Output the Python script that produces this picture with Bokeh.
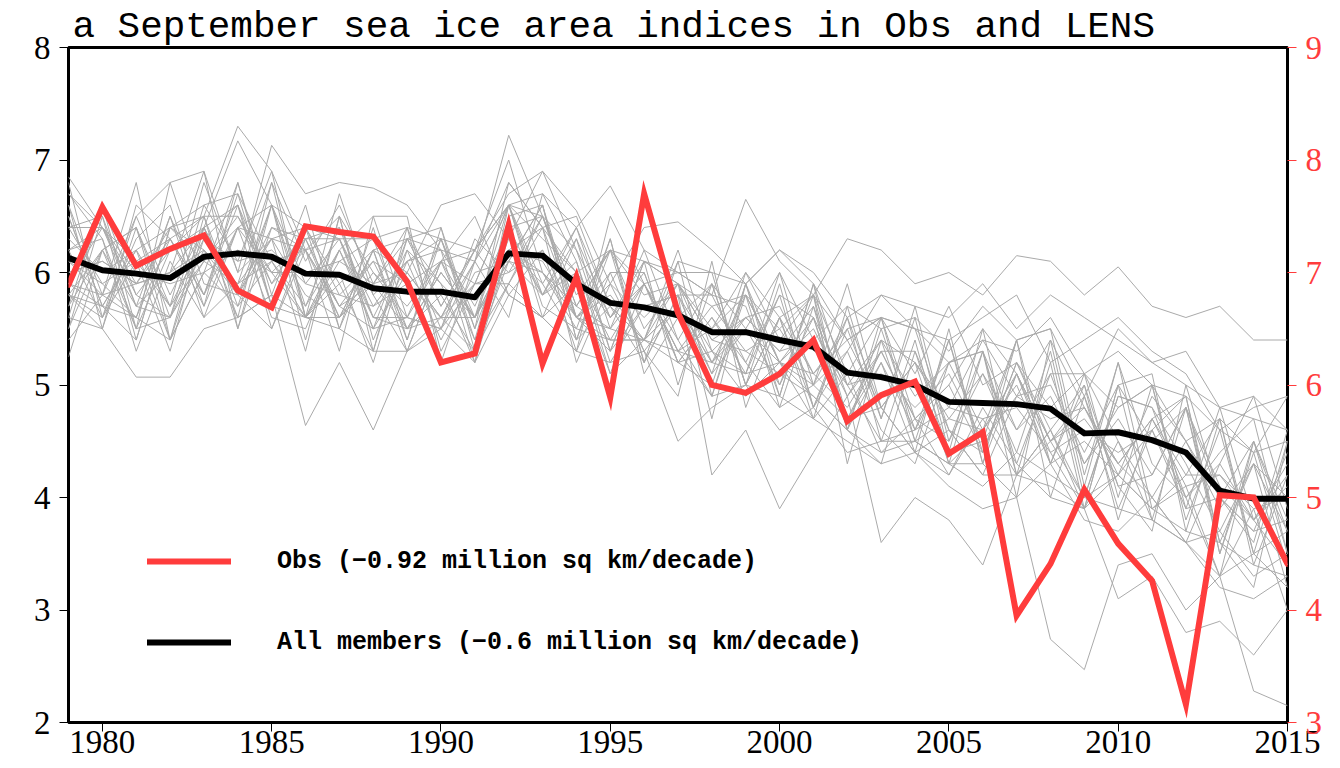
from bokeh.plotting import figure
from bokeh.models import Range1d, LinearAxis, Legend, LegendItem, FixedTicker
from bokeh.embed import file_html
from bokeh.resources import INLINE

years = list(range(1979, 2016))

# Observations (right axis, million sq km)
obs = [6.89, 7.58, 7.06, 7.21, 7.33, 6.84, 6.69, 7.41, 7.36, 7.32,
       6.92, 6.20, 6.28, 7.42, 6.19, 6.96, 5.89, 7.70, 6.64, 6.00,
       5.93, 6.10, 6.40, 5.68, 5.91, 6.03, 5.39, 5.58, 3.95, 4.41,
       5.07, 4.59, 4.26, 3.16, 5.02, 5.00, 4.41]

# LENS ensemble mean (left axis)
ens_mean = [6.13, 6.02, 5.99, 5.95, 6.14, 6.17, 6.14, 5.99, 5.98, 5.86,
            5.83, 5.83, 5.78, 6.17, 6.15, 5.90, 5.73, 5.69, 5.62, 5.47,
            5.47, 5.40, 5.34, 5.11, 5.07, 5.00, 4.85, 4.84, 4.83, 4.79,
            4.57, 4.58, 4.51, 4.40, 4.06, 3.99, 3.99]

# Individual ensemble members (left axis), estimated by eye
m01 = [6.85,6.40,6.10,6.30,6.50, 7.30,6.90,6.20,6.50,6.00, 5.70,6.10,5.90,6.60,6.30, 6.00,5.60,5.90,5.30,5.50, 5.80,5.20,5.60,5.00,5.40, 4.90,5.20,4.60,5.10,4.50, 4.80,4.20,4.90,4.50,3.90, 4.30,3.70]
m02 = [5.80,6.20,5.70,6.00,6.40, 7.17,6.60,6.40,5.90,6.20, 6.00,5.60,6.10,7.22,6.50, 5.80,6.20,5.50,5.90,5.20, 5.60,5.70,5.10,5.40,4.80, 5.20,4.70,5.10,4.60,4.90, 4.30,4.70,4.20,4.80,4.10, 3.80,4.20]
m03 = [6.60,5.50,6.40,5.40,6.50, 5.70,6.60,5.40,6.50,5.30, 6.40,5.30,5.90,6.60,5.60, 6.30,5.30,6.10,5.00,5.90, 5.00,5.90,4.80,5.60,4.50, 5.40,4.30,5.30,4.20,5.20, 3.90,5.00,3.80,4.80,3.50, 4.40,3.40]
m04 = [5.50,6.50,5.70,6.50,5.80, 6.70,5.70,6.40,5.50,6.40, 5.40,6.30,5.40,6.50,6.60, 5.40,6.20,5.20,6.10,4.90, 5.80,4.80,5.70,4.60,5.60, 4.50,5.40,4.30,5.40,4.30, 5.10,4.00,5.00,3.80,4.60, 3.50,4.50]
m05 = [5.25,6.20,6.40,5.60,6.60, 6.10,6.90,5.60,6.00,5.20, 6.20,5.90,5.20,6.60,5.80, 6.40,5.50,6.20,5.40,4.90, 5.90,5.00,5.80,4.70,5.30, 4.70,5.00,5.50,4.20,4.60, 5.00,3.80,4.70,4.90,3.60, 4.30,3.20]
m06 = [6.50,5.70,5.40,6.40,6.20, 5.60,5.80,6.60,5.50,5.30, 6.30,6.40,5.30,6.10,6.60, 5.40,6.30,5.10,5.60,5.90, 5.00,5.60,4.70,5.70,4.70, 5.60,4.40,4.50,5.40,5.50, 4.20,5.20,3.90,4.20,4.70, 3.50,3.70]
m07 = [6.10,5.80,6.80,5.40,6.00, 6.80,5.70,5.60,6.70,5.80, 5.30,6.10,6.20,5.80,6.20, 5.30,6.00,6.00,5.20,5.60, 5.10,5.80,5.60,4.60,5.50, 4.60,5.20,5.30,4.00,5.40, 4.80,4.30,4.00,3.60,4.30, 4.90,3.90]
m08 = [5.70,6.60,5.50,6.80,6.90, 5.50,6.40,6.20,5.30,6.50, 6.50,5.20,6.10,5.60,6.70, 6.10,5.10,5.90,6.00,5.80, 5.20,4.80,5.00,5.90,4.80, 4.40,5.50,4.30,5.10,4.40, 3.90,5.00,5.10,3.70,4.70, 3.40,4.20]
m09 = [6.80,5.60,6.10,5.30,6.40, 6.60,5.50,6.20,6.30,5.50, 5.60,6.30,5.50,6.80,6.40, 6.50,5.70,5.20,5.80,5.10, 6.00,5.60,4.80,5.30,5.80, 5.50,4.60,4.20,4.90,5.40, 4.10,5.20,4.30,4.00,3.30, 4.50,3.50]
m10 = [6.20,6.30,5.30,6.10,5.60, 5.90,6.80,5.60,5.50,6.20, 5.30,6.10,6.50,5.80,5.60, 5.30,6.50,5.90,5.20,5.00, 5.90,4.90,5.90,4.60,4.30, 5.30,4.40,5.50,5.10,4.30, 5.00,4.10,3.70,5.00,4.00, 3.60,4.60]
m11 = [5.50,6.20,6.40,5.70,6.80, 6.00,6.30,5.30,6.50,5.40, 6.10,5.40,6.00,6.10,6.60, 5.60,5.80,5.40,6.20,5.30, 5.10,6.00,5.00,5.30,4.60, 4.30,5.20,5.30,4.30,5.10, 4.30,4.80,5.00,3.90,4.80, 3.80,3.40]
m12 = [6.70,6.40,5.70,5.60,6.20, 5.80,6.40,6.30,5.70,5.50, 6.30,6.20,5.20,6.20,6.40, 5.20,5.90,5.30,4.90,6.10, 4.80,5.60,5.80,4.30,5.40, 5.20,4.30,4.60,5.40,4.00, 4.90,4.10,4.20,4.80,3.60, 3.20,4.50]
m13 = [5.80,5.50,6.60,6.30,5.70, 6.80,5.80,5.60,6.10,6.30, 5.50,5.60,6.20,6.70,6.90, 6.20,5.30,6.10,5.90,4.70, 5.90,5.20,5.10,5.50,4.70, 5.70,4.50,5.10,4.40,5.30, 4.00,4.90,4.80,4.00,4.40, 4.70,3.50]
m14 = [6.40,6.50,5.40,6.40,6.50, 5.50,6.60,5.70,6.40,5.60, 6.20,5.50,6.10,6.60,5.70, 5.50,6.30,5.20,5.80,5.80, 5.70,4.90,5.90,5.00,4.50, 4.60,5.40,4.40,5.20,4.50, 4.90,3.90,4.60,4.90,3.50, 4.50,3.70]
m15 = [5.90,5.70,6.20,5.40,6.30, 6.60,5.70,6.30,5.60,6.20, 5.40,6.40,5.50,6.30,5.80, 6.30,5.60,6.00,5.20,5.60, 5.20,5.80,4.80,5.50,5.60, 4.70,4.50,5.30,4.60,5.10, 5.10,4.50,4.00,4.50,4.00, 3.70,4.40]
m16 = [6.40,5.90,5.60,6.50,5.60, 6.40,5.60,5.50,6.20,6.50, 5.60,5.50,6.30,6.00,6.50, 5.60,5.40,5.40,6.10,6.00, 5.00,5.60,5.10,4.80,5.30, 5.30,4.60,4.40,5.20,4.60, 4.00,4.90,4.80,4.30,3.70, 4.30,4.00]
m17 = [5.60,5.50,5.07,5.07,5.50, 5.60,5.80,4.64,5.20,4.60, 5.30,5.50,5.20,5.80,5.60, 5.30,5.20,5.30,4.50,4.80, 5.00,4.60,4.80,4.40,4.50, 4.50,4.30,4.10,4.40,4.20, 4.00,4.20,3.90,3.70,3.60, 3.40,3.30]
m18 = [6.30,6.00,6.20,6.40,6.10, 6.40,6.30,6.40,6.30,6.30, 6.40,6.30,6.20,6.60,6.70, 6.40,6.77,6.20,6.00,5.80, 6.65,6.10,5.80,6.30,6.20, 5.90,6.00,5.80,6.15,6.10, 5.80,6.05,5.70,5.60,5.70, 5.40,5.40]
m19 = [6.10,5.90,6.10,5.70,6.30, 6.10,6.20,5.90,5.80,5.70, 5.90,5.60,5.60,6.10,6.00, 5.50,5.40,5.40,5.30,4.90, 5.00,4.90,4.70,4.50,4.30, 4.40,4.10,3.90,4.00,2.74, 2.47,3.40,3.50,3.00,3.30, 2.28,2.15]
m20 = [5.90,5.80,5.90,6.00,6.20, 5.90,6.10,6.20,5.60,5.90, 6.30,5.90,5.60,6.20,6.10, 5.60,5.30,5.70,5.80,4.20, 4.60,3.90,4.40,4.90,3.60, 4.00,3.80,3.40,4.20,4.10, 3.90,3.10,3.30,2.80,2.90, 2.60,3.00]
m21 = [6.20,6.40,6.00,5.90,6.00, 6.20,6.00,6.00,6.10,5.90, 6.00,6.60,6.70,6.30,6.90, 6.55,5.90,6.40,6.45,6.20, 5.90,6.20,6.00,5.60,5.80, 5.70,5.60,5.90,5.50,5.80, 5.60,5.40,5.20,5.00,4.80, 4.90,4.60]
m22 = [6.00,6.10,5.90,6.00,6.90, 6.00,7.13,6.70,6.80,6.75, 6.60,6.20,6.10,6.80,6.40, 6.00,6.20,6.10,6.00,6.00, 5.90,6.20,5.90,5.40,5.60, 5.50,5.20,5.40,5.30,5.60, 5.10,5.30,5.00,4.90,4.60, 4.80,4.90]
m23 = [6.60,5.80,6.50,6.80,5.90, 5.80,6.60,5.90,6.30,5.60, 5.60,6.10,5.40,5.90,6.50, 5.70,5.50,5.90,5.30,5.20, 5.80,5.20,4.90,4.60,5.20, 4.40,4.20,4.80,4.30,4.00, 3.90,4.50,3.80,3.60,3.30, 3.90,3.00]
m24 = [5.90,6.40,5.90,6.40,6.60, 6.70,6.10,5.70,6.20,5.60, 5.50,6.00,5.60,6.20,6.00, 5.60,5.90,5.60,5.90,5.40, 5.60,5.30,5.70,4.90,5.40, 4.50,4.70,4.60,5.00,4.30, 4.50,4.20,4.60,3.90,4.00, 3.70,3.80]
m25 = [5.40,5.80,5.60,5.40,6.00, 5.70,6.10,5.60,5.90,5.30, 5.30,5.60,5.30,5.90,5.60, 5.90,5.10,5.40,5.20,5.30, 4.90,5.20,4.70,5.10,4.40, 4.70,4.20,4.70,4.20,4.60, 3.90,4.20,3.90,4.10,3.30, 3.50,3.20]
m26 = [6.50,5.70,5.60,6.30,5.80, 6.60,5.90,6.40,5.80,6.10, 5.90,6.10,5.60,6.60,5.90, 6.40,5.70,5.40,5.90,5.40, 5.30,5.50,5.00,5.60,4.80, 5.20,4.80,5.40,4.90,5.00, 4.40,5.00,4.50,4.80,4.00, 4.50,3.80]
m27 = [5.80,5.60,6.50,5.80,6.40, 5.60,6.80,6.10,6.60,5.90, 6.40,5.70,6.20,7.00,6.00, 5.70,6.20,5.80,5.90,5.50, 6.00,5.40,5.80,5.10,5.60, 5.10,5.70,5.00,5.20,4.80, 5.10,4.80,5.00,4.50,4.70, 4.40,4.90]
m28 = [5.60,6.60,5.80,5.60,6.10, 6.50,5.90,6.20,5.70,6.10, 5.50,5.80,5.30,6.20,5.90, 5.40,5.70,5.40,5.70,5.10, 5.50,5.00,5.60,4.70,5.20, 4.60,4.80,4.70,4.80,4.40, 4.60,4.40,4.60,4.00,4.30, 3.80,4.10]
m29 = [6.70,6.30,5.50,6.20,6.40, 5.80,5.50,6.30,6.40,5.80, 6.10,6.30,5.60,6.40,5.80, 6.10,5.20,5.70,5.80,5.30, 5.60,5.30,5.40,5.00,5.10, 4.80,5.10,4.50,4.90,4.70, 4.80,4.30,4.70,4.20,4.20, 3.80,4.30]
m30 = [6.00,6.10,5.90,6.30,5.80, 6.40,6.00,5.60,6.20,5.50, 6.00,5.60,5.90,5.90,6.40, 5.60,6.00,5.30,5.70,5.20, 5.50,5.20,5.50,4.90,5.30, 4.70,5.00,4.40,5.10,4.50, 4.70,4.30,4.70,4.10,4.20, 3.90,4.00]
m31 = [6.20,5.60,6.30,6.60,5.70, 6.40,6.60,5.60,5.60,6.20, 6.30,5.70,6.20,6.60,6.50, 5.70,6.20,5.90,5.40,5.90, 5.50,6.00,5.40,5.70,5.50, 5.60,5.30,5.70,5.40,5.50, 4.90,5.50,5.20,5.30,4.80, 4.70,4.60]
m32 = [5.70,6.20,5.50,5.60,6.40, 5.80,6.30,6.20,5.70,5.90, 5.50,6.00,5.60,6.10,5.80, 6.00,5.40,5.90,5.30,5.70, 5.30,5.10,4.90,4.60,4.40, 4.50,4.30,4.30,4.00,4.30, 3.80,3.70,4.00,3.60,3.20, 3.10,3.30]
m33 = [6.40,6.40,5.80,6.20,6.50, 6.50,6.00,6.30,6.30,5.70, 6.10,6.20,5.70,6.40,6.50, 6.20,5.60,6.10,5.90,5.70, 5.80,5.50,5.80,5.40,5.60, 5.50,5.40,5.60,5.80,5.20, 5.40,5.60,5.30,5.10,4.60, 4.40,4.50]
m34 = [5.80,5.70,6.20,5.70,6.10, 5.90,6.30,5.80,5.60,6.00, 5.60,5.50,5.90,6.00,6.20, 5.60,5.50,5.40,5.70,5.20, 5.10,5.20,5.00,4.70,4.80, 4.40,4.60,4.20,4.20,4.50, 4.00,3.90,3.80,3.60,3.70, 3.30,3.50]

members = [m01, m02, m03, m04, m05, m06, m07, m08, m09, m10,
           m11, m12, m13, m14, m15, m16, m17, m18, m19, m20,
           m21, m22, m23, m24, m25, m26, m27, m28, m29, m30,
           m31, m32, m33, m34]

left_ticks = [2, 3, 4, 5, 6, 7, 8]
right_ticks = [3, 4, 5, 6, 7, 8, 9]
year_ticks = [1980, 1985, 1990, 1995, 2000, 2005, 2010, 2015]

title_text = "a September sea ice area indices in Obs and LENS"
obs_label = "Obs (\u22120.92 million sq km/decade)"
mean_label = "All members (\u22120.6 million sq km/decade)"

RED = "#ff3c3c"
GRAY = "#aaaaaa"
TICK_FONT = "Liberation Serif"

p = figure(frame_width=1219, frame_height=675,
           x_range=Range1d(1979, 2015), y_range=Range1d(2, 8),
           output_backend="svg", toolbar_location=None,
           min_border_left=68, min_border_right=45,
           min_border_bottom=36, min_border_top=47,
           background_fill_color="white", border_fill_color="white")
p.extra_y_ranges = {"obs": Range1d(3, 9)}

p.title.text = title_text
p.title.text_font = "Liberation Mono"
p.title.text_font_size = "37.6px"
p.title.text_font_style = "normal"
p.title.text_color = "black"
p.title.align = "left"
p.title.offset = 4
p.title.standoff = 0

p.xgrid.visible = False
p.ygrid.visible = False
p.outline_line_color = "black"
p.outline_line_width = 3
p.outline_line_alpha = 1

p.multi_line([years] * len(members), members, line_color=GRAY, line_width=1)
r_mean = p.line(years, ens_mean, line_color="black", line_width=6,
                line_join="round", line_cap="round")
r_obs = p.line(years, obs, line_color=RED, line_width=6,
               line_join="miter", line_cap="round", y_range_name="obs")

for ax in (p.xaxis[0], p.yaxis[0]):
    ax.axis_line_color = None
    ax.major_tick_line_color = "black"
    ax.major_tick_line_width = 1
    ax.major_tick_out = 9
    ax.major_tick_in = 0
    ax.minor_tick_line_color = None
    ax.major_label_text_font = TICK_FONT
    ax.major_label_text_font_size = "33px"
    ax.major_label_text_color = "black"

p.xaxis[0].ticker = FixedTicker(ticks=year_ticks)
p.yaxis[0].ticker = FixedTicker(ticks=left_ticks)
p.xaxis[0].major_label_standoff = -1
p.yaxis[0].major_label_standoff = 9

rax = LinearAxis(y_range_name="obs", ticker=FixedTicker(ticks=right_ticks))
rax.axis_line_color = None
rax.major_tick_line_color = RED
rax.major_tick_line_width = 1
rax.major_tick_out = 9
rax.major_tick_in = 0
rax.minor_tick_line_color = None
rax.major_label_text_font = TICK_FONT
rax.major_label_text_font_size = "33px"
rax.major_label_text_color = RED
rax.major_label_standoff = 9
p.add_layout(rax, "right")

legend = Legend(items=[LegendItem(label=obs_label, renderers=[r_obs]),
                       LegendItem(label=mean_label, renderers=[r_mean])],
                location=(79, 65), orientation="vertical",
                glyph_width=84, glyph_height=30, label_height=30,
                label_standoff=46, spacing=51, padding=0, margin=0,
                label_text_font="Liberation Mono", label_text_font_style="bold",
                label_text_font_size="25px", label_text_color="black",
                border_line_color=None, background_fill_alpha=0)
p.add_layout(legend, "center")

open("out.html", "w").write(file_html(p, INLINE))
